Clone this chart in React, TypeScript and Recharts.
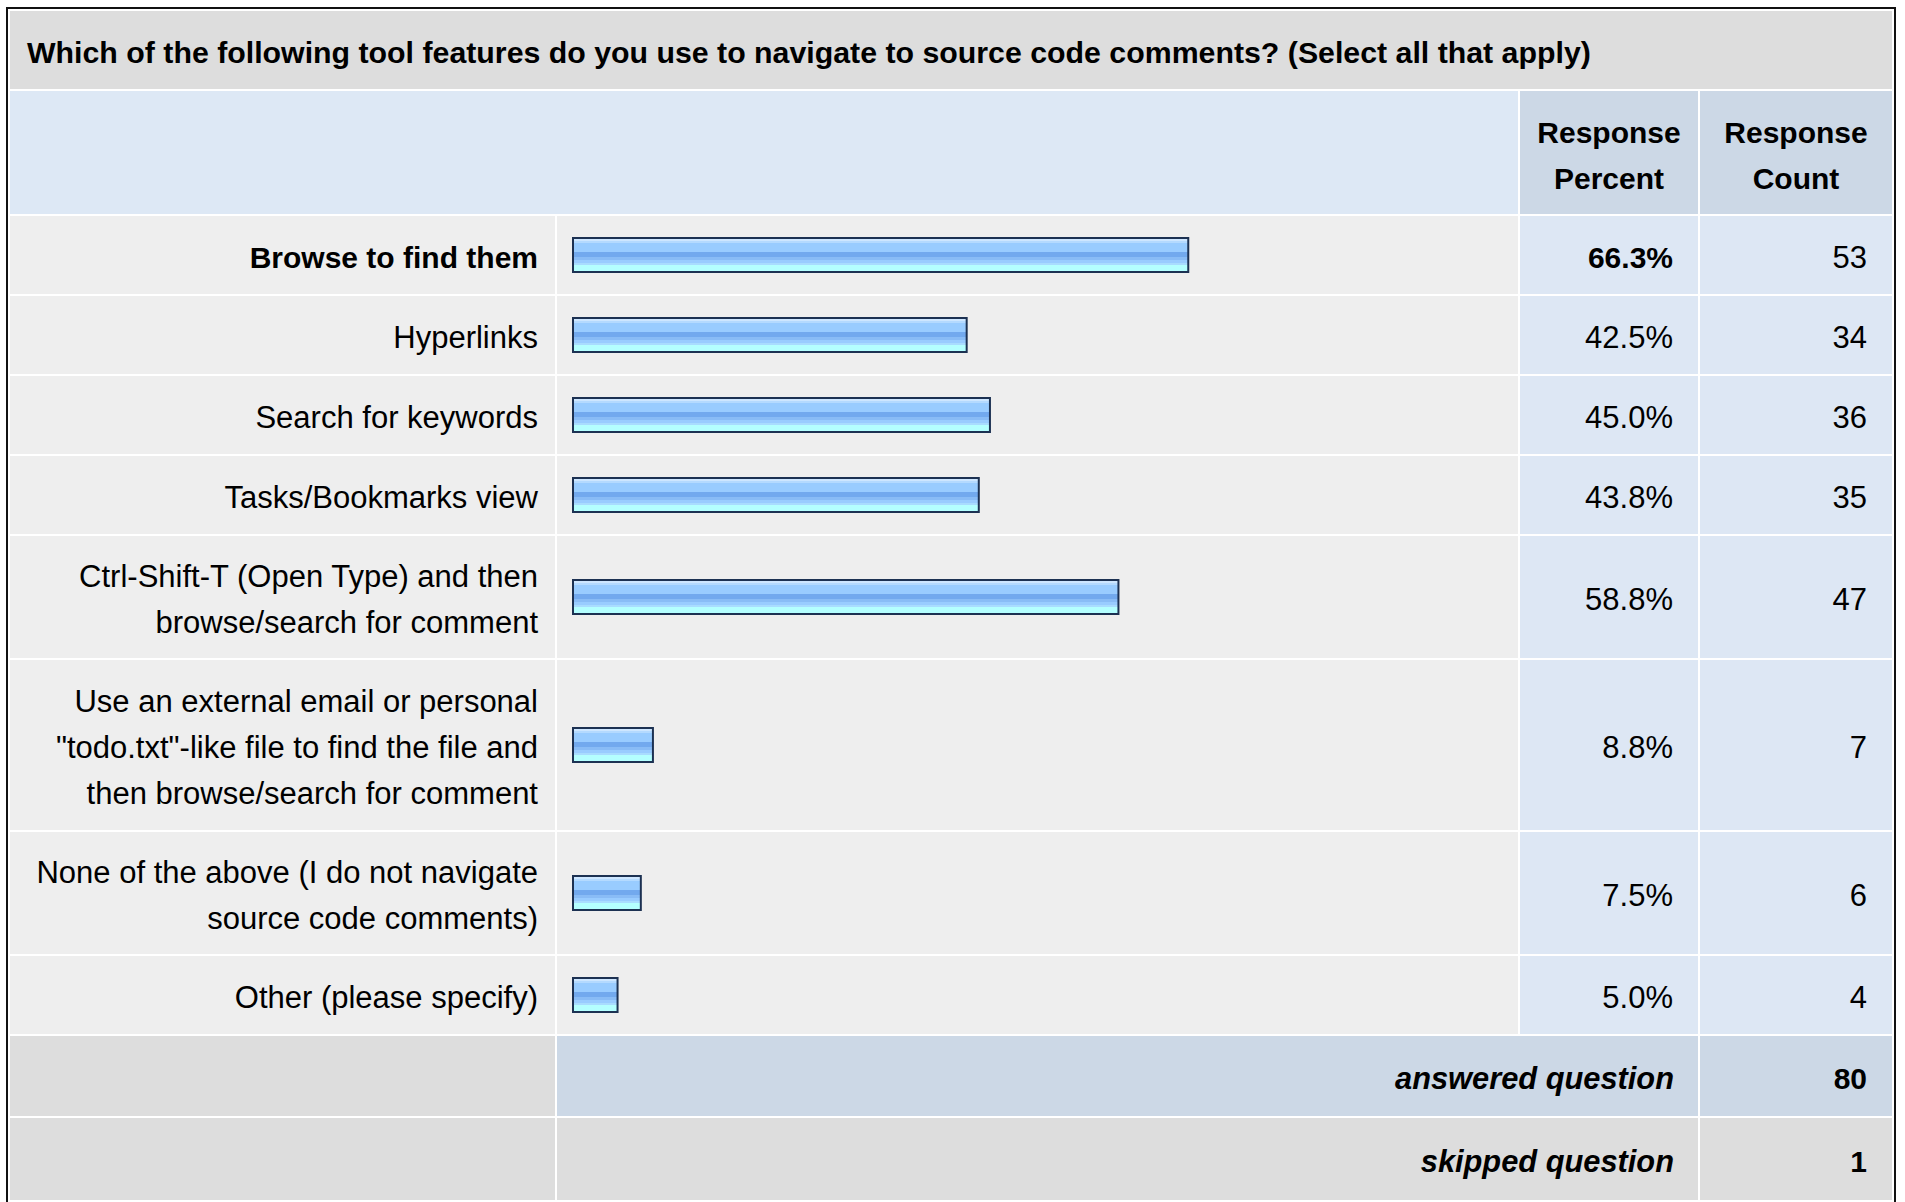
import React from 'react';
import { BarChart, Bar, XAxis, YAxis } from 'recharts';

const questionTitle =
  'Which of the following tool features do you use to navigate to source code comments? (Select all that apply)';

const answerLabels = [
  'Browse to find them',
  'Hyperlinks',
  'Search for keywords',
  'Tasks/Bookmarks view',
  'Ctrl-Shift-T (Open Type) and then\nbrowse/search for comment',
  'Use an external email or personal\n"todo.txt"-like file to find the file and\nthen browse/search for comment',
  'None of the above (I do not navigate\nsource code comments)',
  'Other (please specify)',
];
const responsePercent = [66.3, 42.5, 45.0, 43.8, 58.8, 8.8, 7.5, 5.0];
const responseCount = [53, 34, 36, 35, 47, 7, 6, 4];
const headerLabels = ['Response\nPercent', 'Response\nCount'];
const answeredCount = 80;
const skippedCount = 1;

const FONT = '"Liberation Sans", Arial, Helvetica, sans-serif';
const LINE = 46;
const BAR_COL = 961;
// row height by number of text lines
const ROW_H: Record<number, number> = { 1: 78, 2: 122, 3: 170 };

// hard-edged stripes of the bar image
const stripes: [number, string][] = [
  [0, '#cde6ff'],
  [0.0625, '#b4daff'],
  [0.125, '#99ccff'],
  [0.406, '#72a9ee'],
  [0.5625, '#89bcf6'],
  [0.656, '#99ccff'],
  [0.75, '#a9dcff'],
  [0.8125, '#b4ffff'],
];

function StripedBar(props: any) {
  const { x, y, width, height } = props;
  if (!width || width <= 0) return null;
  return (
    <g>
      <rect x={x} y={y} width={width} height={height} fill="#1c3152" />
      <rect x={x + 2} y={y + 2} width={Math.max(width - 4, 0)} height={height - 4} fill="url(#barStripes)" />
    </g>
  );
}

function RowBar({ label, value }: { label: string; value: number }) {
  const data = [{ name: label, percent: value }];
  return (
    <BarChart
      width={BAR_COL}
      height={56}
      layout="vertical"
      data={data}
      margin={{ top: 0, right: 15, bottom: 0, left: 15 }}
      barCategoryGap={0}
    >
      <XAxis type="number" domain={[0, 100]} hide />
      <YAxis type="category" dataKey="name" hide />
      <Bar dataKey="percent" barSize={36} isAnimationActive={false} shape={StripedBar} />
    </BarChart>
  );
}

const cell = {
  padding: 0,
  verticalAlign: 'middle' as const,
  lineHeight: `${LINE}px`,
  color: '#000',
};
// text sits a little lower than the browser's middle
const txt = { paddingTop: 6 };

export default function App() {
  const top = responsePercent.indexOf(Math.max(...responsePercent));

  return (
    <div style={{ position: 'absolute', left: 6, top: 7, fontFamily: FONT }}>
      <svg width={0} height={0} style={{ position: 'absolute' }}>
        <defs>
          <linearGradient id="barStripes" x1="0" y1="0" x2="0" y2="1">
            {stripes.map(([off, c], i) => {
              const next = i < stripes.length - 1 ? stripes[i + 1][0] : 1;
              return (
                <React.Fragment key={i}>
                  <stop offset={off} stopColor={c} />
                  <stop offset={next} stopColor={c} />
                </React.Fragment>
              );
            })}
          </linearGradient>
        </defs>
      </svg>
      <table
        style={{
          borderCollapse: 'separate',
          borderSpacing: 2,
          border: '2px solid #111',
          tableLayout: 'fixed',
          width: 1890,
          background: '#fff',
        }}
      >
        <colgroup>
          <col style={{ width: 545 }} />
          <col style={{ width: BAR_COL }} />
          <col style={{ width: 178 }} />
          <col style={{ width: 192 }} />
        </colgroup>
        <tbody>
          <tr style={{ height: 78 }}>
            <td
              colSpan={4}
              style={{ ...cell, ...txt, background: '#dddddd', paddingLeft: 17, fontWeight: 'bold', fontSize: 30.3 }}
            >
              {questionTitle}
            </td>
          </tr>
          <tr style={{ height: 123 }}>
            <td colSpan={2} style={{ ...cell, background: '#dde8f5' }} />
            {headerLabels.map((h) => (
              <td
                key={h}
                style={{
                  ...cell,
                  ...txt,
                  background: '#ccd8e6',
                  textAlign: 'center',
                  fontWeight: 'bold',
                  fontSize: 30,
                  whiteSpace: 'pre-line',
                }}
              >
                {h}
              </td>
            ))}
          </tr>
          {answerLabels.map((label, i) => {
            const lines = label.split('\n').length;
            const bold = i === top;
            return (
              <tr key={label} style={{ height: ROW_H[lines] }}>
                <td
                  style={{
                    ...cell,
                    ...txt,
                    background: '#eeeeee',
                    textAlign: 'right',
                    paddingRight: 17,
                    whiteSpace: 'pre-line',
                    fontSize: bold ? 30 : 31,
                    fontWeight: bold ? 'bold' : 'normal',
                  }}
                >
                  {label}
                </td>
                <td style={{ ...cell, background: '#eeeeee' }}>
                  <RowBar label={label} value={responsePercent[i]} />
                </td>
                <td
                  style={{
                    ...cell,
                    ...txt,
                    background: '#dde7f4',
                    textAlign: 'right',
                    paddingRight: 25,
                    fontSize: bold ? 30 : 31,
                    fontWeight: bold ? 'bold' : 'normal',
                  }}
                >
                  {responsePercent[i].toFixed(1)}%
                </td>
                <td
                  style={{ ...cell, ...txt, background: '#dde7f4', textAlign: 'right', paddingRight: 25, fontSize: 31 }}
                >
                  {responseCount[i]}
                </td>
              </tr>
            );
          })}
          <tr style={{ height: 80 }}>
            <td style={{ ...cell, background: '#dddddd' }} />
            <td
              colSpan={2}
              style={{
                ...cell,
                ...txt,
                background: '#ccd8e6',
                textAlign: 'right',
                paddingRight: 24,
                fontSize: 30.8,
                fontWeight: 'bold',
                fontStyle: 'italic',
              }}
            >
              answered question
            </td>
            <td
              style={{
                ...cell,
                ...txt,
                background: '#ccd8e6',
                textAlign: 'right',
                paddingRight: 25,
                fontSize: 30,
                fontWeight: 'bold',
              }}
            >
              {answeredCount}
            </td>
          </tr>
          <tr style={{ height: 82 }}>
            <td style={{ ...cell, background: '#dddddd' }} />
            <td
              colSpan={2}
              style={{
                ...cell,
                ...txt,
                background: '#dddddd',
                textAlign: 'right',
                paddingRight: 24,
                fontSize: 30.8,
                fontWeight: 'bold',
                fontStyle: 'italic',
              }}
            >
              skipped question
            </td>
            <td
              style={{
                ...cell,
                ...txt,
                background: '#dddddd',
                textAlign: 'right',
                paddingRight: 25,
                fontSize: 30,
                fontWeight: 'bold',
              }}
            >
              {skippedCount}
            </td>
          </tr>
        </tbody>
      </table>
    </div>
  );
}
